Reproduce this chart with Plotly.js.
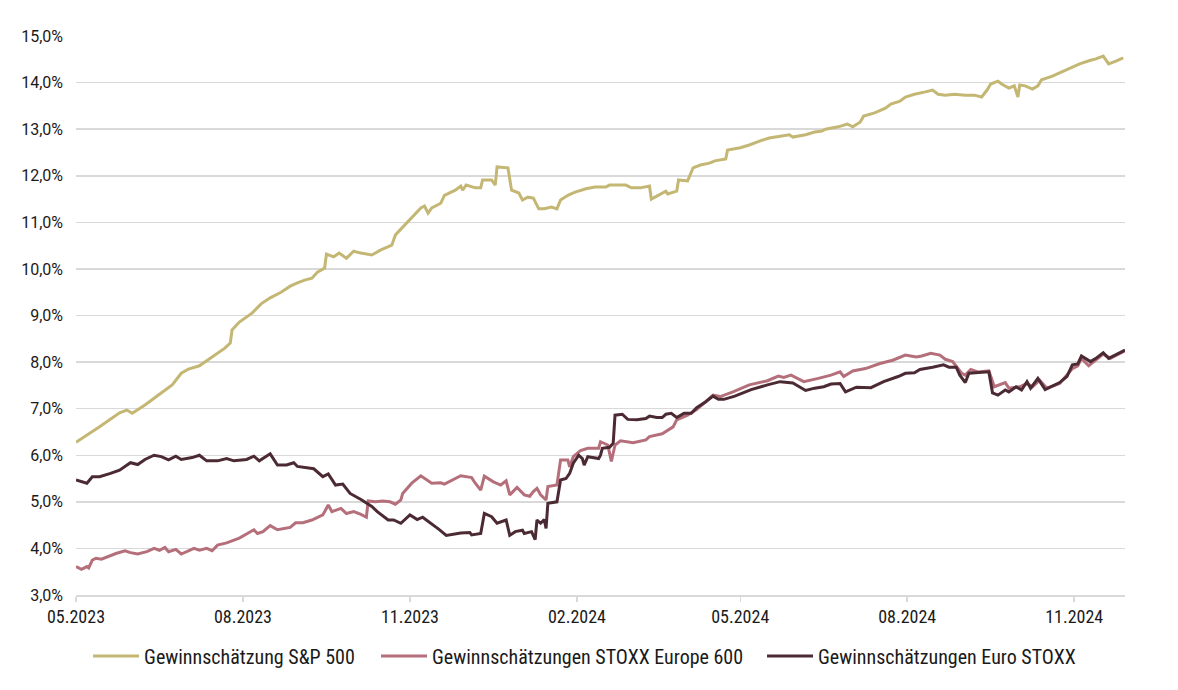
<!DOCTYPE html>
<html>
<head>
<meta charset="utf-8">
<script src="https://cdn.plot.ly/plotly-3.0.1.min.js"></script>
<style>
html,body{margin:0;padding:0;background:#fff;}
#chart{width:1178px;height:690px;}
</style>
</head>
<body>
<div id="chart"></div>
<script>
// Gewinnschätzung S&P 500 (%)
const spDates = ["2023-05-01","2023-05-14","2023-05-25","2023-05-29","2023-06-01","2023-06-08","2023-06-16","2023-06-23","2023-06-28","2023-07-02","2023-07-08","2023-07-14","2023-07-22","2023-07-25","2023-07-26","2023-07-30","2023-08-06","2023-08-11","2023-08-16","2023-08-22","2023-08-27","2023-08-31","2023-09-04","2023-09-08","2023-09-11","2023-09-15","2023-09-16","2023-09-20","2023-09-23","2023-09-27","2023-10-01","2023-10-05","2023-10-11","2023-10-16","2023-10-22","2023-10-24","2023-10-29","2023-11-03","2023-11-07","2023-11-09","2023-11-11","2023-11-13","2023-11-18","2023-11-20","2023-11-26","2023-11-29","2023-11-30","2023-12-02","2023-12-07","2023-12-10","2023-12-11","2023-12-16","2023-12-18","2023-12-19","2023-12-25","2023-12-27","2023-12-31","2024-01-02","2024-01-05","2024-01-08","2024-01-11","2024-01-14","2024-01-18","2024-01-21","2024-01-23","2024-01-27","2024-01-31","2024-02-06","2024-02-11","2024-02-17","2024-02-19","2024-02-28","2024-03-02","2024-03-07","2024-03-10","2024-03-12","2024-03-13","2024-03-18","2024-03-21","2024-03-22","2024-03-27","2024-03-28","2024-04-02","2024-04-05","2024-04-09","2024-04-14","2024-04-17","2024-04-23","2024-04-24","2024-05-01","2024-05-06","2024-05-12","2024-05-17","2024-05-23","2024-05-28","2024-05-30","2024-06-06","2024-06-11","2024-06-15","2024-06-17","2024-06-24","2024-06-29","2024-07-02","2024-07-06","2024-07-08","2024-07-14","2024-07-20","2024-07-23","2024-07-28","2024-07-31","2024-08-05","2024-08-11","2024-08-15","2024-08-18","2024-08-22","2024-08-27","2024-09-02","2024-09-07","2024-09-11","2024-09-14","2024-09-16","2024-09-20","2024-09-22","2024-09-26","2024-09-29","2024-10-01","2024-10-02","2024-10-05","2024-10-09","2024-10-12","2024-10-14","2024-10-20","2024-10-25","2024-10-31","2024-11-04","2024-11-10","2024-11-13","2024-11-17","2024-11-20","2024-11-24","2024-11-28"];
const spValues = [6.28,6.61,6.91,6.97,6.90,7.08,7.31,7.51,7.76,7.85,7.92,8.09,8.30,8.41,8.69,8.86,9.05,9.25,9.38,9.50,9.63,9.70,9.76,9.80,9.93,10.02,10.32,10.26,10.34,10.23,10.38,10.34,10.30,10.41,10.51,10.73,10.94,11.16,11.31,11.35,11.20,11.31,11.41,11.58,11.69,11.78,11.69,11.80,11.74,11.74,11.91,11.91,11.80,12.19,12.17,11.69,11.63,11.48,11.54,11.52,11.29,11.29,11.33,11.29,11.48,11.58,11.65,11.72,11.76,11.76,11.80,11.80,11.74,11.74,11.76,11.78,11.50,11.61,11.67,11.61,11.67,11.91,11.89,12.17,12.23,12.27,12.32,12.36,12.55,12.60,12.66,12.75,12.81,12.85,12.88,12.83,12.88,12.94,12.96,13.00,13.05,13.11,13.05,13.15,13.28,13.35,13.45,13.54,13.60,13.69,13.75,13.80,13.84,13.75,13.73,13.75,13.73,13.73,13.69,13.84,13.97,14.03,13.97,13.88,13.93,13.69,13.95,13.93,13.86,13.93,14.06,14.14,14.23,14.33,14.40,14.48,14.51,14.57,14.40,14.46,14.53];

// Gewinnschätzungen STOXX Europe 600 (%)
const stoxx600Dates = ["2023-05-01","2023-05-04","2023-05-07","2023-05-08","2023-05-10","2023-05-12","2023-05-15","2023-05-18","2023-05-23","2023-05-28","2023-05-31","2023-06-04","2023-06-09","2023-06-13","2023-06-16","2023-06-19","2023-06-21","2023-06-25","2023-06-28","2023-07-05","2023-07-08","2023-07-12","2023-07-15","2023-07-18","2023-07-23","2023-07-30","2023-08-07","2023-08-09","2023-08-12","2023-08-16","2023-08-20","2023-08-27","2023-08-30","2023-09-03","2023-09-08","2023-09-14","2023-09-17","2023-09-19","2023-09-24","2023-09-27","2023-10-01","2023-10-05","2023-10-08","2023-10-09","2023-10-13","2023-10-17","2023-10-21","2023-10-24","2023-10-27","2023-10-28","2023-11-02","2023-11-07","2023-11-13","2023-11-18","2023-11-20","2023-11-29","2023-12-05","2023-12-07","2023-12-10","2023-12-12","2023-12-17","2023-12-21","2023-12-24","2023-12-26","2023-12-30","2024-01-03","2024-01-06","2024-01-08","2024-01-10","2024-01-12","2024-01-15","2024-01-16","2024-01-21","2024-01-23","2024-01-27","2024-01-28","2024-01-30","2024-02-03","2024-02-07","2024-02-13","2024-02-14","2024-02-18","2024-02-20","2024-02-22","2024-02-25","2024-03-03","2024-03-10","2024-03-12","2024-03-19","2024-03-25","2024-03-27","2024-04-02","2024-04-07","2024-04-12","2024-04-16","2024-04-20","2024-04-27","2024-05-06","2024-05-16","2024-05-22","2024-05-25","2024-05-29","2024-06-05","2024-06-13","2024-06-20","2024-06-25","2024-06-27","2024-07-02","2024-07-09","2024-07-17","2024-07-24","2024-07-31","2024-08-06","2024-08-09","2024-08-14","2024-08-19","2024-08-22","2024-08-26","2024-08-31","2024-09-02","2024-09-05","2024-09-09","2024-09-15","2024-09-18","2024-09-21","2024-09-24","2024-09-26","2024-10-02","2024-10-06","2024-10-09","2024-10-13","2024-10-17","2024-10-24","2024-10-31","2024-11-03","2024-11-05","2024-11-09","2024-11-13","2024-11-17","2024-11-21","2024-11-29"];
const stoxx600Values = [3.61,3.55,3.61,3.58,3.75,3.79,3.77,3.82,3.89,3.95,3.91,3.88,3.93,4.00,3.96,4.02,3.93,3.98,3.88,4.00,3.96,4.00,3.95,4.07,4.12,4.22,4.40,4.32,4.36,4.49,4.40,4.45,4.55,4.55,4.61,4.72,4.93,4.79,4.86,4.75,4.79,4.73,4.67,5.02,5.00,5.02,5.00,4.95,5.04,5.18,5.40,5.56,5.40,5.41,5.38,5.56,5.52,5.40,5.25,5.55,5.43,5.36,5.45,5.15,5.31,5.15,5.12,5.22,5.29,5.15,5.04,5.33,5.36,5.90,5.90,5.75,5.97,6.10,6.15,6.15,6.29,6.22,5.87,6.22,6.31,6.27,6.33,6.40,6.46,6.61,6.76,6.86,6.98,7.15,7.29,7.26,7.36,7.51,7.60,7.70,7.67,7.72,7.58,7.65,7.72,7.79,7.69,7.81,7.86,7.97,8.04,8.15,8.11,8.13,8.19,8.15,8.06,8.01,7.76,7.72,7.84,7.79,7.81,7.47,7.51,7.56,7.44,7.47,7.54,7.47,7.61,7.44,7.54,7.86,7.92,8.08,7.92,8.04,8.17,8.08,8.24];

// Gewinnschätzungen Euro STOXX (%)
const euroDates = ["2023-05-01","2023-05-04","2023-05-07","2023-05-10","2023-05-14","2023-05-20","2023-05-25","2023-05-31","2023-06-04","2023-06-08","2023-06-13","2023-06-17","2023-06-21","2023-06-25","2023-06-28","2023-07-04","2023-07-08","2023-07-12","2023-07-18","2023-07-23","2023-07-27","2023-08-03","2023-08-07","2023-08-10","2023-08-16","2023-08-20","2023-08-25","2023-08-29","2023-08-31","2023-09-09","2023-09-14","2023-09-17","2023-09-21","2023-09-25","2023-09-29","2023-10-05","2023-10-11","2023-10-14","2023-10-20","2023-10-23","2023-10-27","2023-11-01","2023-11-05","2023-11-08","2023-11-14","2023-11-17","2023-11-21","2023-11-29","2023-12-04","2023-12-05","2023-12-10","2023-12-12","2023-12-16","2023-12-19","2023-12-24","2023-12-26","2023-12-29","2024-01-02","2024-01-03","2024-01-07","2024-01-09","2024-01-10","2024-01-12","2024-01-14","2024-01-15","2024-01-16","2024-01-21","2024-01-23","2024-01-26","2024-01-28","2024-01-30","2024-02-02","2024-02-04","2024-02-05","2024-02-07","2024-02-13","2024-02-14","2024-02-15","2024-02-19","2024-02-21","2024-02-22","2024-02-26","2024-02-29","2024-03-05","2024-03-10","2024-03-12","2024-03-16","2024-03-19","2024-03-21","2024-03-24","2024-03-27","2024-03-31","2024-04-04","2024-04-07","2024-04-12","2024-04-16","2024-04-19","2024-04-22","2024-04-28","2024-05-07","2024-05-16","2024-05-23","2024-05-30","2024-06-06","2024-06-11","2024-06-16","2024-06-20","2024-06-25","2024-06-28","2024-07-04","2024-07-12","2024-07-19","2024-07-27","2024-07-31","2024-08-05","2024-08-08","2024-08-15","2024-08-21","2024-08-24","2024-08-28","2024-08-30","2024-09-02","2024-09-04","2024-09-09","2024-09-15","2024-09-17","2024-09-20","2024-09-24","2024-09-26","2024-09-30","2024-10-03","2024-10-06","2024-10-08","2024-10-12","2024-10-16","2024-10-24","2024-10-28","2024-10-31","2024-11-03","2024-11-05","2024-11-10","2024-11-13","2024-11-17","2024-11-20","2024-11-29"];
const euroValues = [5.47,5.43,5.40,5.54,5.54,5.61,5.68,5.84,5.80,5.91,6.00,5.97,5.90,5.98,5.91,5.95,6.00,5.88,5.88,5.93,5.88,5.91,5.98,5.88,6.03,5.79,5.79,5.84,5.76,5.71,5.54,5.60,5.36,5.38,5.18,5.05,4.90,4.79,4.61,4.61,4.54,4.72,4.62,4.67,4.50,4.41,4.28,4.33,4.34,4.29,4.32,4.75,4.68,4.54,4.61,4.28,4.36,4.39,4.32,4.36,4.19,4.61,4.54,4.62,4.43,4.97,5.00,5.47,5.50,5.61,5.83,6.00,5.93,5.79,5.97,5.93,6.00,6.15,6.17,6.26,6.86,6.88,6.77,6.76,6.79,6.84,6.81,6.81,6.88,6.90,6.81,6.90,6.90,7.02,7.15,7.27,7.20,7.20,7.27,7.41,7.51,7.58,7.55,7.39,7.44,7.47,7.53,7.54,7.36,7.46,7.45,7.58,7.69,7.76,7.77,7.84,7.89,7.94,7.89,7.89,7.72,7.56,7.76,7.77,7.79,7.34,7.29,7.40,7.36,7.47,7.40,7.58,7.44,7.65,7.41,7.56,7.69,7.94,7.96,8.13,8.01,8.08,8.20,8.08,8.26];

const seriesNames = ["Gewinnschätzung S&P 500","Gewinnschätzungen STOXX Europe 600","Gewinnschätzungen Euro STOXX"];
const seriesColors = ["#C4B774","#B56F7B","#4B2A33"];
const legendIds = ["legend","legend2","legend3"];
const legendX = [0.0115, 0.2860, 0.6540];

const condFont = "'Roboto Condensed','Liberation Sans Narrow',Roboto,sans-serif";
const yFont = "Roboto,'Liberation Sans',sans-serif";

const traces = [
  {x: spDates, y: spValues},
  {x: stoxx600Dates, y: stoxx600Values},
  {x: euroDates, y: euroValues}
].map((t, i) => ({
  type: "scatter", mode: "lines", x: t.x, y: t.y, name: seriesNames[i],
  legend: legendIds[i],
  line: {color: seriesColors[i], width: 3, shape: "linear"}
}));

const layout = {
  width: 1178, height: 690,
  margin: {l: 76, r: 53, t: 36, b: 95},
  paper_bgcolor: "#fff", plot_bgcolor: "#fff",
  separators: ",.",
  font: {family: condFont, size: 18, color: "#1a1a1a"},
  showlegend: true,
  xaxis: {
    type: "date",
    range: ["2023-05-01", "2024-11-29"],
    tick0: "2023-05-01", dtick: "M3", tickformat: "%m.%Y",
    showgrid: false, zeroline: false,
    showline: true, linecolor: "#d9d9d9", linewidth: 1.5,
    ticks: "outside", ticklen: 5, tickcolor: "#d9d9d9", tickwidth: 1.5,
    tickfont: {family: condFont, size: 18, color: "#1a1a1a"}
  },
  yaxis: {
    range: [3, 15], dtick: 1, tick0: 3,
    tickformat: ".1f", ticksuffix: "%",
    showgrid: true, gridcolor: "#d9d9d9", gridwidth: 1.5,
    zeroline: false, showline: false, ticks: "",
    ticklabelstandoff: 12,
    tickfont: {family: yFont, size: 16, color: "#1a1a1a"}
  }
};
legendIds.forEach((id, i) => {
  layout[id] = {
    orientation: "h", x: legendX[i], xanchor: "left", y: -0.109, yanchor: "middle",
    font: {family: condFont, size: 20, color: "#1a1a1a"},
    itemwidth: 46, bgcolor: "rgba(0,0,0,0)", borderwidth: 0
  };
});

Plotly.newPlot("chart", traces, layout, {staticPlot: true, displayModeBar: false});
</script>
</body>
</html>
